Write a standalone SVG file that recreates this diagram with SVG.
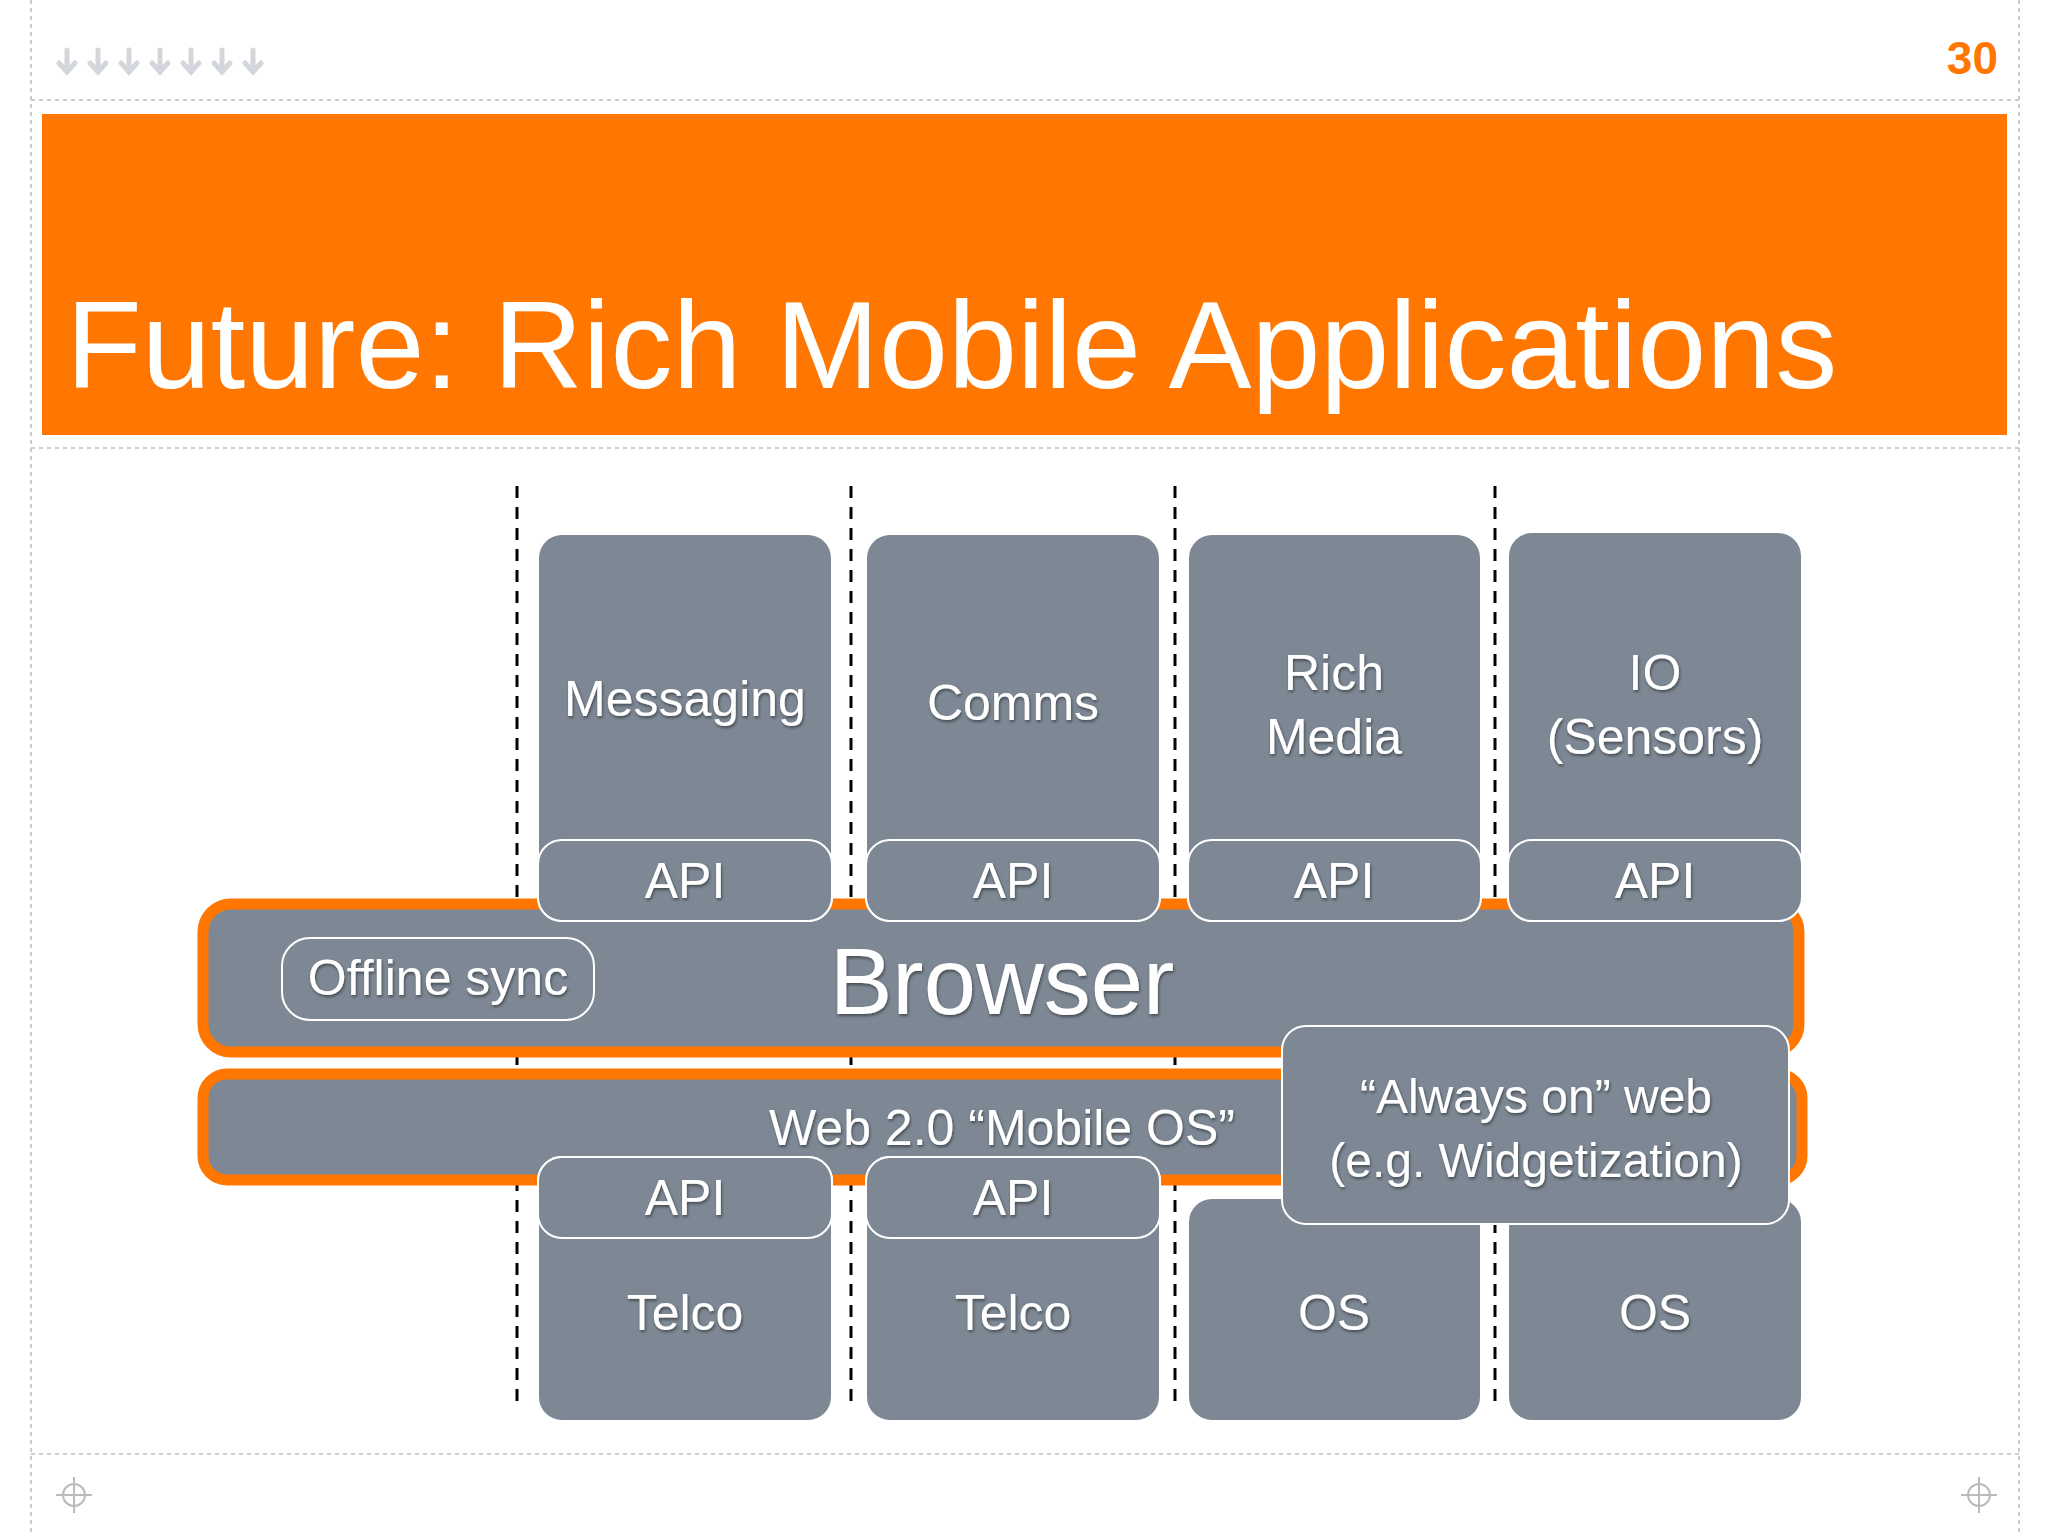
<svg xmlns="http://www.w3.org/2000/svg" width="2048" height="1536" viewBox="0 0 2048 1536">
<defs>
<style>
.box{fill:#7d8894;stroke:#fff;stroke-width:2}
.bar{fill:#7d8894;stroke:#ff7700;stroke-width:11}
.t{font-family:"Helvetica Neue","Liberation Sans",Arial,sans-serif;fill:#fff;text-anchor:middle;font-size:50px}
.big{font-size:94px}
.os{font-size:48px}
.dash{stroke:#000;stroke-width:3;stroke-dasharray:12 9;fill:none}
.frame{stroke:#ccc;stroke-width:2;stroke-dasharray:4 4;fill:none}
</style>
<filter id="sh"><feDropShadow dx="1" dy="2" stdDeviation="1.5" flood-color="#000" flood-opacity="0.45"/></filter>
</defs>
<rect width="2048" height="1536" fill="#fff"/>
<g id="frame">
<line class="frame" x1="31" y1="0" x2="31" y2="1536"/>
<line class="frame" x1="2019" y1="0" x2="2019" y2="1536"/>
<line class="frame" x1="31" y1="100" x2="2019" y2="100"/>
<line class="frame" x1="31" y1="448" x2="2019" y2="448"/>
<line class="frame" x1="31" y1="1454" x2="2019" y2="1454"/>
<g fill="none" stroke="#bbb" stroke-width="2">
<circle cx="74" cy="1495" r="11"/><line x1="56" y1="1495" x2="92" y2="1495"/><line x1="74" y1="1477" x2="74" y2="1513"/>
<circle cx="1979" cy="1495" r="11"/><line x1="1961" y1="1495" x2="1997" y2="1495"/><line x1="1979" y1="1477" x2="1979" y2="1513"/>
</g>
<g fill="none" stroke="#d3d7dc" stroke-width="5" stroke-linecap="round">
<path d="M67 50v22M59 63l8 9 8-9"/><path d="M98 50v22M90 63l8 9 8-9"/><path d="M129 50v22M121 63l8 9 8-9"/><path d="M160 50v22M152 63l8 9 8-9"/><path d="M191 50v22M183 63l8 9 8-9"/><path d="M222 50v22M214 63l8 9 8-9"/><path d="M253 50v22M245 63l8 9 8-9"/>
</g>
<text x="1998" y="74" font-family="Liberation Sans,Arial,sans-serif" font-weight="bold" font-size="46" fill="#ff7700" text-anchor="end">30</text>
</g>
<g id="title">
<rect x="42" y="114" width="1965" height="321" fill="#ff7700"/>
<text x="66" y="388" font-family="Helvetica Neue,Liberation Sans,Arial,sans-serif" font-size="124" fill="#fff">Future: Rich Mobile Applications</text>
</g>
<g id="connectors">
<line class="dash" x1="517" y1="486" x2="517" y2="1410"/>
<line class="dash" x1="851" y1="486" x2="851" y2="1410"/>
<line class="dash" x1="1175" y1="486" x2="1175" y2="1410"/>
<line class="dash" x1="1495" y1="486" x2="1495" y2="1410"/>
</g>
<g id="web20">
<rect class="bar" x="203" y="1074" width="1599" height="106" rx="24"/>
<text class="t" x="1002" y="1145" filter="url(#sh)">Web 2.0 “Mobile OS”</text>
</g>
<g id="browser">
<rect class="bar" x="203" y="904" width="1596" height="148" rx="28"/>
<text class="t big" x="1002" y="1014" filter="url(#sh)">Browser</text>
</g>
<g id="offline"><rect class="box" x="282" y="938" width="312" height="82" rx="28"/><text class="t" x="438" y="995" filter="url(#sh)">Offline sync</text></g>
<g id="messaging"><rect class="box" x="538" y="534" width="294" height="387" rx="24"/><text class="t" x="685" y="716" filter="url(#sh)">Messaging</text>
<rect class="box" x="538" y="840" width="294" height="81" rx="24"/><text class="t" x="685" y="898" filter="url(#sh)">API</text></g>
<g id="comms"><rect class="box" x="866" y="534" width="294" height="387" rx="24"/><text class="t" x="1013" y="720" filter="url(#sh)">Comms</text>
<rect class="box" x="866" y="840" width="294" height="81" rx="24"/><text class="t" x="1013" y="898" filter="url(#sh)">API</text></g>
<g id="richmedia"><rect class="box" x="1188" y="534" width="293" height="387" rx="24"/><text class="t" x="1334" y="690" filter="url(#sh)">Rich</text><text class="t" x="1334" y="754" filter="url(#sh)">Media</text>
<rect class="box" x="1188" y="840" width="293" height="81" rx="24"/><text class="t" x="1334" y="898" filter="url(#sh)">API</text></g>
<g id="io"><rect class="box" x="1508" y="532" width="294" height="389" rx="24"/><text class="t" x="1655" y="690" filter="url(#sh)">IO</text><text class="t" x="1655" y="754" filter="url(#sh)">(Sensors)</text>
<rect class="box" x="1508" y="840" width="294" height="81" rx="24"/><text class="t" x="1655" y="898" filter="url(#sh)">API</text></g>
<g id="telco1"><rect class="box" x="538" y="1157" width="294" height="264" rx="24"/><text class="t" x="685" y="1330" filter="url(#sh)">Telco</text>
<rect class="box" x="538" y="1157" width="294" height="81" rx="24"/><text class="t" x="685" y="1215" filter="url(#sh)">API</text></g>
<g id="telco2"><rect class="box" x="866" y="1157" width="294" height="264" rx="24"/><text class="t" x="1013" y="1330" filter="url(#sh)">Telco</text>
<rect class="box" x="866" y="1157" width="294" height="81" rx="24"/><text class="t" x="1013" y="1215" filter="url(#sh)">API</text></g>
<g id="os1"><rect class="box" x="1188" y="1198" width="293" height="223" rx="24"/><text class="t" x="1334" y="1330" filter="url(#sh)">OS</text></g>
<g id="os2"><rect class="box" x="1508" y="1198" width="294" height="223" rx="24"/><text class="t" x="1655" y="1330" filter="url(#sh)">OS</text></g>
<g id="alwayson"><rect class="box" x="1282" y="1026" width="507" height="198" rx="24"/><text class="t os" x="1536" y="1113" filter="url(#sh)">“Always on” web</text><text class="t os" x="1536" y="1177" filter="url(#sh)">(e.g. Widgetization)</text></g>
</svg>
